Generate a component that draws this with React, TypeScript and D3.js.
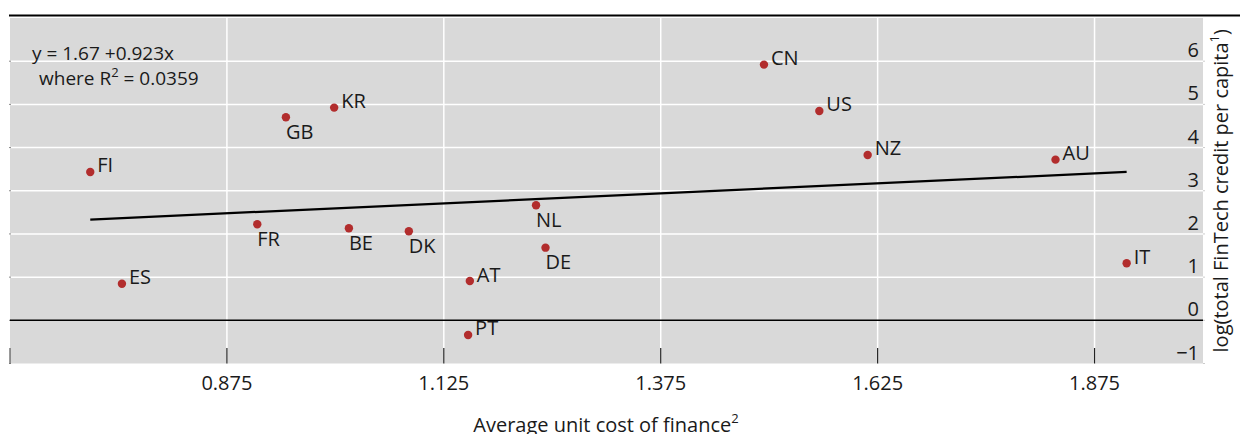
import React from "react";
import * as d3 from "d3";

const countries = ["FI", "GB", "KR", "ES", "FR", "BE", "DK", "NL", "DE", "AT", "PT", "CN", "US", "NZ", "AU", "IT"];
const costValues = [0.7175, 0.943, 0.9986, 0.754, 0.910, 1.0156, 1.0847, 1.2313, 1.2422, 1.155, 1.153, 1.494, 1.5578, 1.6135, 1.830, 1.912];
const creditValues = [3.435, 4.702, 4.925, 0.848, 2.224, 2.131, 2.062, 2.664, 1.682, 0.910, -0.34, 5.921, 4.848, 3.829, 3.720, 1.320];
const labelBelow = ["GB", "FR", "BE", "DK", "NL", "DE"];

const xTicks = [0.625, 0.875, 1.125, 1.375, 1.625, 1.875];
const xTickLabels = ["", "0.875", "1.125", "1.375", "1.625", "1.875"];
const yTicks = [-1, 0, 1, 2, 3, 4, 5, 6];
const yTickLabels = ["\u22121", "0", "1", "2", "3", "4", "5", "6"];

const intercept = 1.67;
const slope = 0.923;

const W = 1240;
const H = 434;
const FONT = "'Open Sans', 'Noto Sans', sans-serif";

export default function App() {
  const left = 10, right = 1203, top = 18, bottom = 363.5;
  const x = d3.scaleLinear().domain([0.625, 2.0]).range([left, right]);
  const y = d3.scaleLinear().domain([-1, 7]).range([bottom, top]);

  const xMin = d3.min(costValues) as number;
  const xMax = d3.max(costValues) as number;
  const line = d3.line<number>().x((d) => x(d)).y((d) => y(intercept + slope * d));

  const fs = 20;
  const sup = 13;

  return (
    <svg width={W} height={H} style={{ position: "absolute", left: 0, top: 0, display: "block" }} fontFamily={FONT}>
      <rect x={0} y={0} width={W} height={H} fill="#fff" />
      <rect x={left} y={top} width={right - left} height={bottom - top} fill="#d9d9d9" />
      {/* gridlines */}
      {yTicks.filter((t) => t !== 0 && t !== -1).map((t) => (
        <line key={"gy" + t} x1={left} x2={right} y1={y(t)} y2={y(t)} stroke="#fff" strokeWidth={1.5} />
      ))}
      {xTicks.slice(1).map((t) => (
        <line key={"gx" + t} x1={x(t)} x2={x(t)} y1={top} y2={bottom} stroke="#fff" strokeWidth={1.5} />
      ))}
      {/* small side ticks */}
      {yTicks.map((t) => (
        <g key={"st" + t}>
          <line x1={left - 1} x2={left + 1} y1={y(t)} y2={y(t)} stroke="#888" strokeWidth={1} />
          <line x1={right} x2={right + 2} y1={y(t)} y2={y(t)} stroke="#ccc" strokeWidth={1} />
        </g>
      ))}
      {/* zero line */}
      <line x1={left} x2={right} y1={y(0)} y2={y(0)} stroke="#000" strokeWidth={1.5} />
      {/* top rule */}
      <line x1={9} x2={W} y1={15.5} y2={15.5} stroke="#000" strokeWidth={2} />
      {/* x ticks */}
      {xTicks.map((t, i) => (
        <g key={"xt" + t}>
          <line x1={x(t)} x2={x(t)} y1={348} y2={bottom} stroke={i === 0 ? "#555" : "#222"} strokeWidth={1.2} />
          <text x={x(t)} y={390} textAnchor="middle" fontSize={fs} fill="#1a1a1a">{xTickLabels[i]}</text>
        </g>
      ))}
      {/* y tick labels */}
      {yTicks.map((t, i) => (
        <text key={"yl" + t} x={1199} y={y(t) - 4} textAnchor="end" fontSize={fs} fill="#1a1a1a">{yTickLabels[i]}</text>
      ))}
      {/* regression line */}
      <path d={line([xMin, xMax]) || ""} stroke="#000" strokeWidth={2.2} fill="none" />
      {/* points */}
      {countries.map((c, i) => {
        const cx = x(costValues[i]);
        const cy = y(creditValues[i]);
        const below = labelBelow.includes(c);
        return (
          <g key={c}>
            <circle cx={cx} cy={cy} r={4.2} fill="#b22d2d" />
            <text x={below ? cx : cx + 7} y={below ? cy + 21.5 : cy + 0.5} fontSize={fs} fill="#1a1a1a">{c}</text>
          </g>
        );
      })}
      {/* equation */}
      <text x={32} y={60} fontSize={19} fill="#1a1a1a">y = 1.67 +0.923x</text>
      <text x={39} y={85} fontSize={19} fill="#1a1a1a">
        where R<tspan dy={-8} fontSize={sup}>2</tspan><tspan dy={8}> = 0.0359</tspan>
      </text>
      {/* axis titles */}
      <text x={606} y={431.5} textAnchor="middle" fontSize={fs} fill="#1a1a1a">
        Average unit cost of finance<tspan dy={-9} fontSize={sup}>2</tspan>
      </text>
      <text transform={`translate(1228, ${(top + bottom) / 2}) rotate(-90)`} textAnchor="middle" fontSize={fs} fill="#1a1a1a">
        log(total FinTech credit per capita<tspan dy={-9} fontSize={sup}>1</tspan><tspan dy={9}>)</tspan>
      </text>
    </svg>
  );
}
